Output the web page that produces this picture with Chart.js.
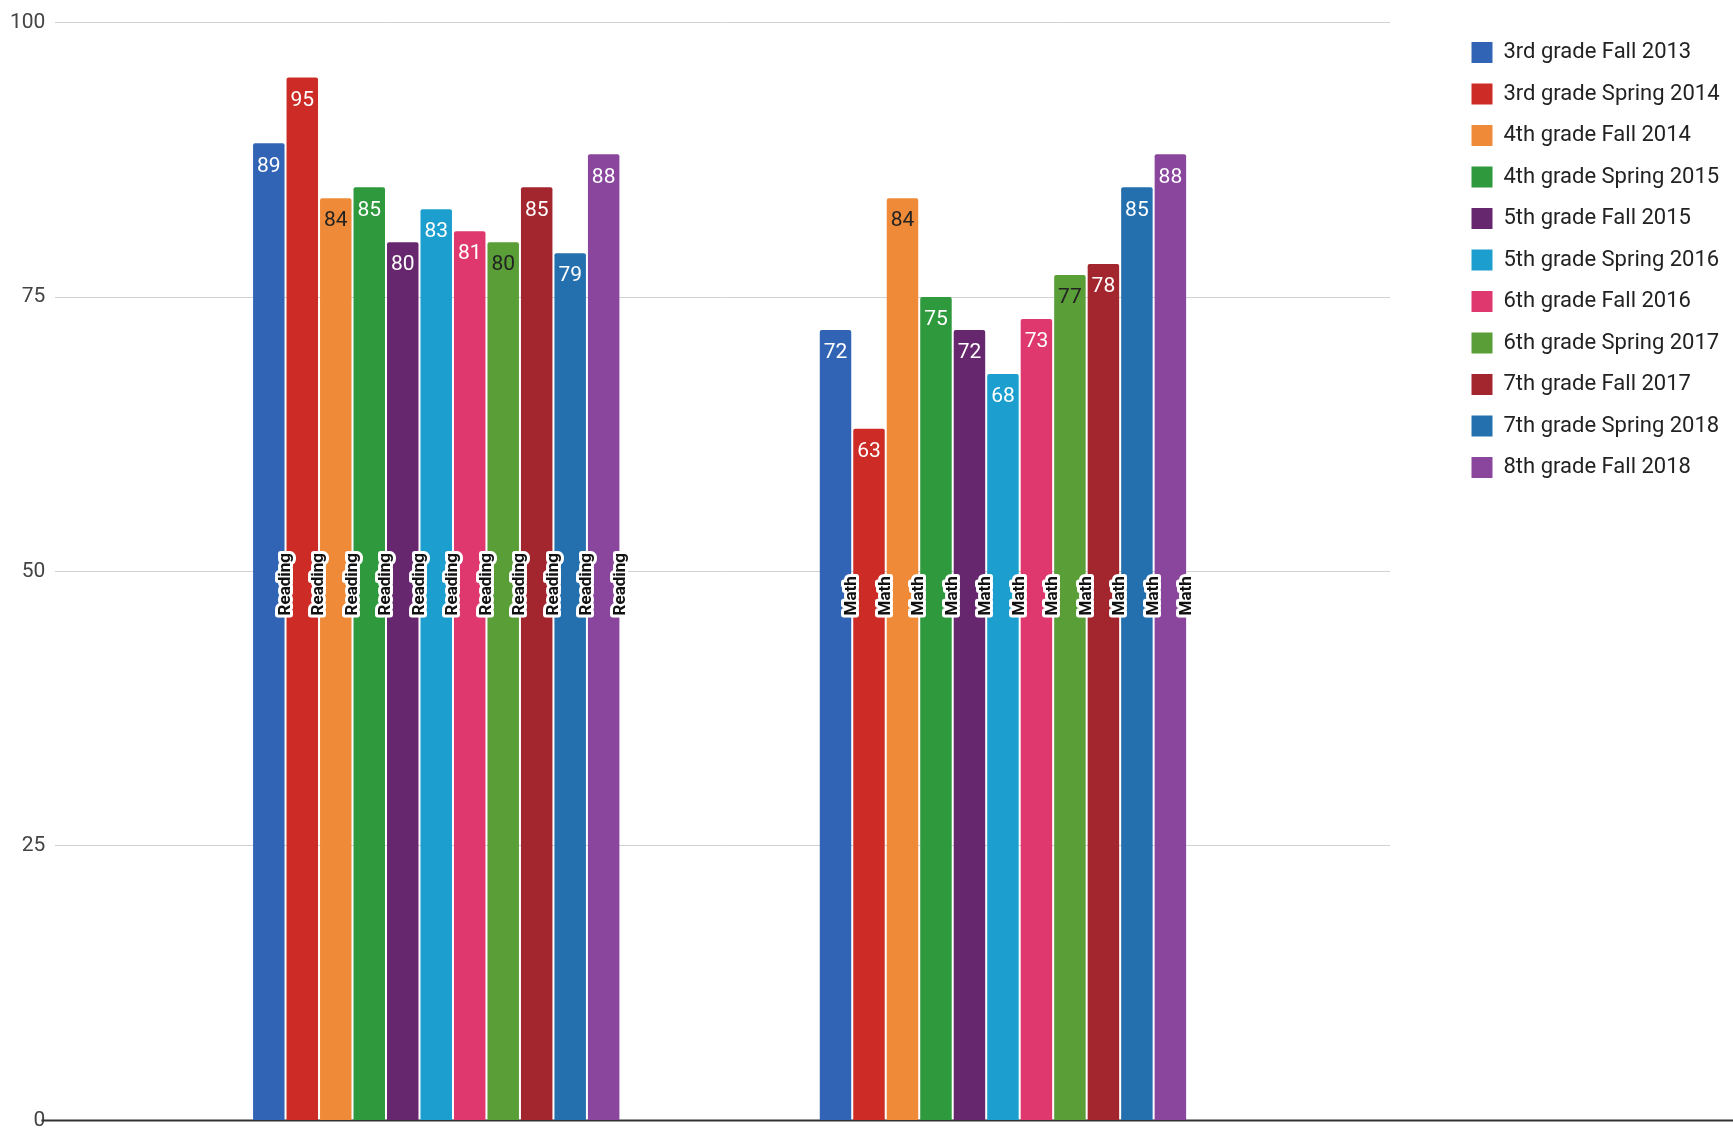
<!DOCTYPE html>
<html>
<head>
<meta charset="utf-8">
<script src="https://cdn.jsdelivr.net/npm/chart.js@4.4.0/dist/chart.umd.min.js"></script>
<style>
  body { margin: 0; background: #fff; }
  #wrap { width: 1733px; height: 1143px; }
</style>
</head>
<body>
<div id="wrap"><canvas id="myChart"></canvas></div>
<script>
var categories = ['Reading', 'Math'];
var seriesNames = [
  '3rd grade Fall 2013',
  '3rd grade Spring 2014',
  '4th grade Fall 2014',
  '4th grade Spring 2015',
  '5th grade Fall 2015',
  '5th grade Spring 2016',
  '6th grade Fall 2016',
  '6th grade Spring 2017',
  '7th grade Fall 2017',
  '7th grade Spring 2018',
  '8th grade Fall 2018'
];
var readingScores = [89, 95, 84, 85, 80, 83, 81, 80, 85, 79, 88];
var mathScores = [72, 63, 84, 75, 72, 68, 73, 77, 78, 85, 88];
var yTicks = [0, 25, 50, 75, 100];

var barColors = ['#3264b5', '#cd2c26', '#ef8b38', '#2f9a3d', '#67276f', '#1c9fcf',
                 '#df386e', '#5a9e38', '#a3262e', '#2470ae', '#8a459d'];
// dark text on the light bars, white on the rest
var valueColors = ['#fff', '#fff', '#222', '#fff', '#fff', '#fff',
                   '#fff', '#222', '#fff', '#fff', '#fff'];

var datasets = [];
for (var i = 0; i < seriesNames.length; i++) {
  datasets.push({
    label: seriesNames[i],
    data: [{x: 0, y: readingScores[i]}, {x: 1, y: mathScores[i]}],
    backgroundColor: barColors[i],
    borderWidth: 0,
    borderRadius: 2,
    categoryPercentage: 0.65,
    barPercentage: 0.94
  });
}

// value on top of each bar + the rotated category name
var barText = {
  id: 'barText',
  afterDatasetsDraw: function(chart) {
    var ctx = chart.ctx;
    var yScale = chart.scales.y;
    ctx.save();
    chart.data.datasets.forEach(function(ds, di) {
      var meta = chart.getDatasetMeta(di);
      meta.data.forEach(function(bar, j) {
        ctx.font = '21px Roboto';
        ctx.fillStyle = valueColors[di];
        ctx.textAlign = 'center';
        ctx.textBaseline = 'middle';
        ctx.fillText(ds.data[j].y, bar.x, bar.y + 23);
      });
    });
    chart.data.datasets.forEach(function(ds, di) {
      var meta = chart.getDatasetMeta(di);
      meta.data.forEach(function(bar, j) {
        var w = bar.width;
        ctx.save();
        ctx.translate(bar.x + w / 2 + 1, yScale.getPixelForValue(46));
        ctx.rotate(-Math.PI / 2);
        ctx.font = 'bold 17px Roboto';
        ctx.textAlign = 'left';
        ctx.textBaseline = 'middle';
        ctx.lineJoin = 'round';
        ctx.lineWidth = 6;
        ctx.strokeStyle = '#fff';
        ctx.strokeText(categories[j], 0, 0);
        ctx.fillStyle = '#111';
        ctx.fillText(categories[j], 0, 0);
        ctx.restore();
      });
    });
    ctx.restore();
  }
};

// the zero line runs on under the legend
var baseLine = {
  id: 'baseLine',
  beforeDatasetsDraw: function(chart) {
    var ctx = chart.ctx;
    var y0 = chart.scales.y.getPixelForValue(0);
    ctx.save();
    ctx.strokeStyle = '#333';
    ctx.lineWidth = 2;
    ctx.beginPath();
    ctx.moveTo(chart.chartArea.left - 14, y0);
    ctx.lineTo(chart.width, y0);
    ctx.stroke();
    ctx.restore();
  }
};

var ctx = document.getElementById('myChart').getContext('2d');
var myChart = new Chart(ctx, {
  type: 'bar',
  data: { datasets: datasets },
  plugins: [baseLine, barText],
  options: {
    responsive: true,
    maintainAspectRatio: false,
    animation: false,
    layout: { padding: { left: 0, right: 3.5, top: 22, bottom: 12 } },
    scales: {
      x: {
        type: 'linear',
        display: false,
        offset: false,
        min: -0.672,
        max: 1.683,
        afterBuildTicks: function(scale) {
          scale.ticks = [{value: 0}, {value: 1}];
        }
      },
      y: {
        min: 0,
        max: 100,
        afterBuildTicks: function(scale) {
          scale.ticks = yTicks.map(function(v) { return {value: v}; });
        },
        grid: {
          drawTicks: false,
          color: function(c) { return c.tick && c.tick.value === 0 ? 'rgba(0,0,0,0)' : '#d2d2d2'; }
        },
        border: { display: false },
        ticks: {
          padding: 10,
          color: '#444',
          font: { family: 'Roboto', size: 21 }
        }
      },
      gap: {
        type: 'linear',
        position: 'right',
        display: true,
        grid: { display: false },
        border: { display: false },
        ticks: { display: false },
        afterFit: function(scale) { scale.width = 62; }
      }
    },
    plugins: {
      tooltip: { enabled: false },
      legend: {
        position: 'right',
        align: 'start',
        labels: {
          boxWidth: 21,
          boxHeight: 21,
          padding: 19.5,
          color: '#222',
          font: { family: 'Roboto', size: 22 }
        }
      }
    }
  }
});
</script>
</body>
</html>
